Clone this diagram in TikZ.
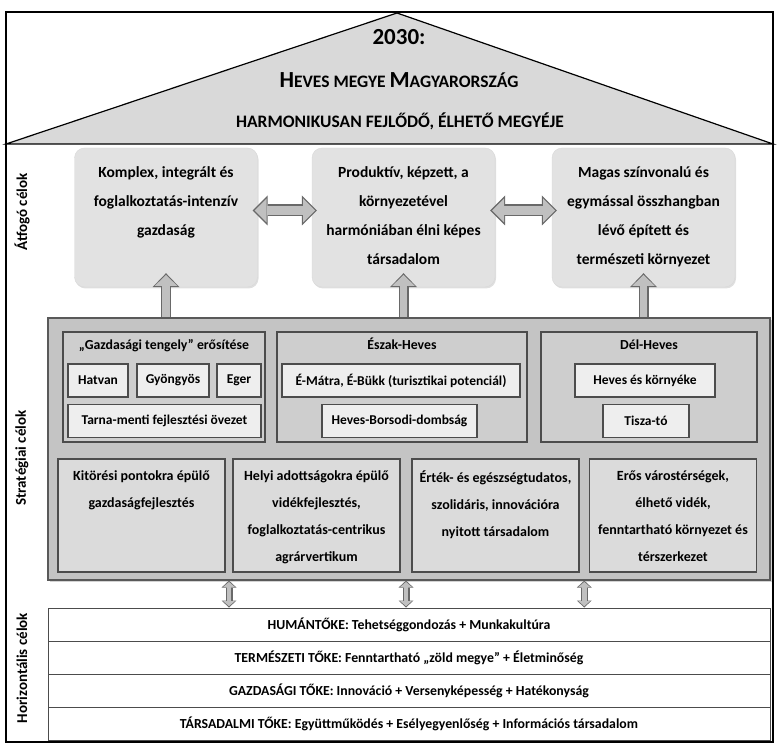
\documentclass[tikz,border=0pt]{standalone}
\usepackage{fontspec}
\setmainfont{Carlito}
\usetikzlibrary{positioning,calc,arrows.meta,shadows}
\definecolor{roofgray}{RGB}{217,217,217}
\definecolor{goalgray}{RGB}{226,226,226}
\definecolor{stratgray}{RGB}{196,196,196}
\definecolor{regiongray}{RGB}{206,206,206}
\definecolor{placegray}{RGB}{238,238,238}
\definecolor{actiongray}{RGB}{219,219,219}
\definecolor{rimgray}{RGB}{105,105,105}
\definecolor{arrowgray}{RGB}{192,192,192}
\newcommand{\capletter}[1]{{\fontsize{23}{23}\selectfont #1}}
\newcommand{\boxtext}[3]{\parbox[c][#1][t]{#2}{\centering #3}}
\tikzstyle{rooftext}=[inner sep=0pt, font=\fontsize{17.5}{20}\selectfont\bfseries]
\tikzstyle{side}=[rotate=90, inner sep=0pt, font=\fontsize{15}{15}\selectfont\bfseries]
\tikzstyle{goal}=[rounded corners=10pt, fill=goalgray, draw=black!15, inner sep=0pt,
  drop shadow={opacity=0.25, shadow xshift=1pt, shadow yshift=-1.5pt},
  minimum width=183pt, minimum height=139pt, font=\fontsize{15.5}{29}\selectfont\bfseries]
\tikzstyle{strat}=[draw=black!65, line width=1.2pt, fill=stratgray, inner sep=0pt,
  drop shadow={opacity=0.35, shadow xshift=2pt, shadow yshift=-2pt},
  minimum width=722pt, minimum height=262pt]
\tikzstyle{region}=[draw=black!70, line width=1.1pt, fill=regiongray, inner sep=0pt, minimum height=110pt]
\tikzstyle{regiontitle}=[inner sep=0pt, text height=11pt, text depth=3pt, font=\fontsize{13.8}{16}\selectfont\bfseries]
\tikzstyle{place}=[draw=black!70, line width=1.1pt, fill=placegray, inner sep=0pt, minimum height=33pt,
  font=\fontsize{13.5}{16}\selectfont\bfseries]
\tikzstyle{action}=[draw=black!70, line width=1.1pt, fill=actiongray, inner sep=0pt,
  minimum width=167pt, minimum height=113pt, font=\fontsize{14}{27}\selectfont\bfseries]
\tikzstyle{capital}=[draw=black!70, line width=1pt, fill=white, inner sep=0pt,
  minimum width=722pt, minimum height=33pt, font=\fontsize{13.8}{16}\selectfont\bfseries]
% fat arrows: a dark rim first, then a lighter core on top
\tikzstyle{siderim}=[line width=12pt, draw=rimgray, shorten <=-5pt, shorten >=-5pt,
  arrows={Triangle[width=30pt,length=15pt,line width=0pt]-Triangle[width=30pt,length=15pt,line width=0pt]}]
\tikzstyle{sidecore}=[line width=9.6pt, draw=arrowgray, shorten <=-3.2pt, shorten >=-3.2pt,
  arrows={Triangle[width=24pt,length=12pt,line width=0pt]-Triangle[width=24pt,length=12pt,line width=0pt]}]
\tikzstyle{uprim}=[line width=10pt, draw=rimgray, shorten >=-14pt,
  arrows={-Triangle[width=27pt,length=14pt,line width=0pt]}]
\tikzstyle{upcore}=[line width=7.6pt, draw=arrowgray, shorten <=0.6pt, shorten >=-12.3pt,
  arrows={-Triangle[width=22.5pt,length=11pt,line width=0pt]}]
\tikzstyle{linkrim}=[line width=7pt, draw=rimgray,
  arrows={Triangle[width=15pt,length=7pt,line width=0pt]-Triangle[width=15pt,length=7pt,line width=0pt]}]
\tikzstyle{linkcore}=[line width=4.6pt, draw=arrowgray, shorten <=1.3pt, shorten >=1.3pt,
  arrows={Triangle[width=11.5pt,length=5pt,line width=0pt]-Triangle[width=11.5pt,length=5pt,line width=0pt]}]
\begin{document}
\begin{tikzpicture}[x=1pt, y=-1pt]
  \useasboundingbox (0,0) rectangle (779,743);
  % frame and roof
  \draw[line width=1.4pt] (6,12) rectangle (773,742);
  \draw[line width=1.2pt, fill=roofgray] (6,144) -- (397,13) -- (773,144) -- cycle;
  \node[rooftext, font=\fontsize{23}{23}\selectfont\bfseries] (year) at (399,37) {2030:};
  \node[rooftext] (county) at (399,80) {\capletter{H}EVES MEGYE \capletter{M}AGYARORSZÁG};
  \node[rooftext] (vision) at (400,121) {HARMONIKUSAN FEJLŐDŐ, ÉLHETŐ MEGYÉJE};

  % row labels on the left
  \node[side] (lab1) at (22,212) {Átfogó célok};
  \node[side] (lab2) at (22,458) {Stratégiai célok};
  \node[side] (lab3) at (22,668) {Horizontális célok};

  % overall goals
  \node[goal] (g1) at (166,217.5) {\boxtext{102pt}{174pt}{Komplex, integrált és\\ foglalkoztatás-intenzív\\ gazdaság}};
  \node[goal] (g2) at (403.5,217.5) {\boxtext{102pt}{174pt}{Produktív, képzett, a\\ környezetével\\ harmóniában élni képes\\ társadalom}};
  \node[goal] (g3) at (643.5,217.5) {\boxtext{102pt}{174pt}{Magas színvonalú és\\ egymással összhangban\\ lévő épített és\\ természeti környezet}};

  % strategic goals
  \node[strat] (strat) at (409,449) {};
  \node[region, minimum width=202pt] (axis) at (164,387) {};
  \node[region, minimum width=250pt] (north) at (402,387) {};
  \node[region, minimum width=216pt] (south) at (649,387) {};
  \node[regiontitle, below=7pt of axis.north] (axistitle) {„Gazdasági tengely” erősítése};
  \node[regiontitle, below=7pt of north.north] (northtitle) {Észak-Heves};
  \node[regiontitle, below=7pt of south.north] (southtitle) {Dél-Heves};

  \node[place, minimum width=60pt] (hatvan) at (98,380.5) {Hatvan};
  \node[place, minimum width=72pt] (gyongyos) at (173,380.5) {Gyöngyös};
  \node[place, minimum width=44pt] (eger) at (239,380.5) {Eger};
  \node[place, minimum width=193pt] (tarna) at (164.5,421) {Tarna-menti fejlesztési övezet};
  \node[place, minimum width=238pt] (matra) at (401,380.5) {É-Mátra, É-Bükk (turisztikai potenciál)};
  \node[place, minimum width=155pt] (borsod) at (399.5,421) {Heves-Borsodi-dombság};
  \node[place, minimum width=140pt] (heves) at (645,380.5) {Heves és környéke};
  \node[place, minimum width=86pt] (tisza) at (646,421) {Tisza-tó};

  \node[action] (b1) at (141.5,515.5) {\boxtext{90pt}{162pt}{Kitörési pontokra épülő\\ gazdaságfejlesztés}};
  \node[action] (b2) at (316.5,515.5) {\boxtext{90pt}{162pt}{Helyi adottságokra épülő\\ vidékfejlesztés,\\ foglalkoztatás-centrikus\\ agrárvertikum}};
  \node[action] (b3) at (495.5,515.5) {\boxtext{90pt}{162pt}{Érték- és egészségtudatos,\\ szolidáris, innovációra\\ nyitott társadalom}};
  \node[action] (b4) at (673,515.5) {\boxtext{90pt}{166pt}{Erős várostérségek,\\ élhető vidék,\\ fenntartható környezet és\\ térszerkezet}};

  % horizontal goals, using a loop
  \foreach \nm/\row/\txt in {hum/0/{HUMÁNTŐKE: Tehetséggondozás + Munkakultúra},
      term/1/{TERMÉSZETI TŐKE: Fenntartható „zöld megye” + Életminőség},
      gazd/2/{GAZDASÁGI TŐKE: Innováció + Versenyképesség + Hatékonyság},
      tars/3/{TÁRSADALMI TŐKE: Együttműködés + Esélyegyenlőség + Információs társadalom}}{
    \node[capital] (\nm) at (409,{624.5+33*\row}) {\txt};
  }

  % arrows between the overall goals
  \foreach \a/\b in {g1/g2, g2/g3}{
    \draw[siderim] ([yshift=7pt]\a.east) -- ([yshift=7pt]\b.west);
    \draw[sidecore] ([yshift=7pt]\a.east) -- ([yshift=7pt]\b.west);
  }
  % arrows up from the strategic goals
  \foreach \g in {g1,g2,g3}{
    \draw[uprim] (\g.south |- strat.north) -- (\g.south);
    \draw[upcore] (\g.south |- strat.north) -- (\g.south);
  }
  % links down to the horizontal goals
  \foreach \a/\b in {b1/b2, b2/b3, b3/b4}{
    \coordinate (gap-\a) at ($(\a.east)!0.5!(\b.west)$);
    \draw[linkrim] (gap-\a |- strat.south) -- (gap-\a |- hum.north);
    \draw[linkcore] (gap-\a |- strat.south) -- (gap-\a |- hum.north);
  }
\end{tikzpicture}
\end{document}
